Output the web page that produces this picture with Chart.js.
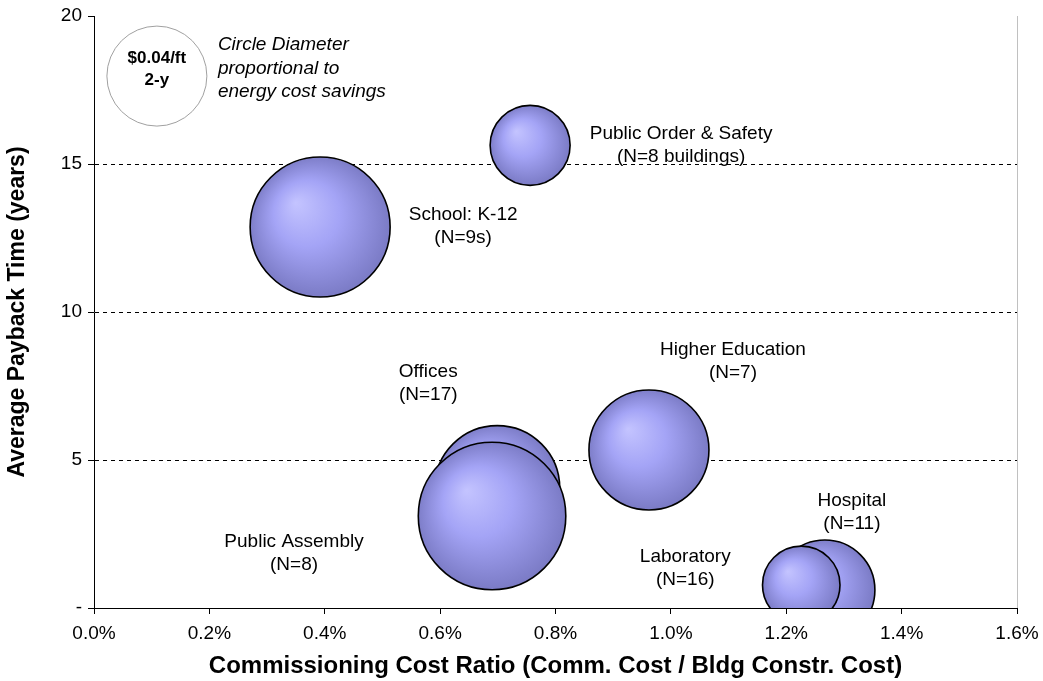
<!DOCTYPE html>
<html>
<head>
<meta charset="utf-8">
<title>Commissioning cost vs payback</title>
<script src="https://cdn.jsdelivr.net/npm/chart.js@4/dist/chart.umd.min.js"></script>
<style>
  body { margin: 0; background: #fff; }
  canvas { display: block; }
</style>
</head>
<body>
<canvas id="chart" width="1043" height="681"></canvas>
<script>
// building types, bottom-most drawn first so overlaps stack the same way
const types   = ['Public Order & Safety', 'School: K-12', 'Offices', 'Public Assembly', 'Higher Education', 'Hospital', 'Laboratory'];
const counts  = ['(N=8 buildings)', '(N=9s)', '(N=17)', '(N=8)', '(N=7)', '(N=11)', '(N=16)'];
const costRatio = [0.756, 0.392, 0.699, 0.690, 0.962, 1.267, 1.226];   // % of construction cost
const payback   = [15.63, 12.87, 4.05, 3.11, 5.34, 0.61, 0.78];        // years
const savings   = [0.032, 0.056, 0.050, 0.059, 0.048, 0.040, 0.031];  // $/ft2-y

const keySavings = 0.04;
const keyText = ['$0.04/ft', '2-y'];
const noteText = ['Circle Diameter', 'proportional to', 'energy cost savings'];

const yTicks = [0, 5, 10, 15, 20];

// label placement, pixel offset of the first line from the bubble centre
const labelOffset = [[151, -12], [143, -12], [-69, -116], [-198, 26], [84, -100], [27, -89], [-116, -28]];

const FONT = '"Liberation Sans", Arial, sans-serif';
const PX_PER_SAVING = 50 / keySavings;

function radiusFor(s) { return s * PX_PER_SAVING; }

function bubbleFill(context) {
  const chart = context.chart;
  const raw = context.raw;
  if (!chart.chartArea || !raw) return '#a0a0f5';
  const cx = chart.scales.x.getPixelForValue(raw.x);
  const cy = chart.scales.y.getPixelForValue(raw.y);
  const r = raw.r;
  const g = chart.ctx.createRadialGradient(cx - 0.35 * r, cy - 0.35 * r, 0, cx, cy, r * 1.05);
  g.addColorStop(0, '#c4c4ff');
  g.addColorStop(0.45, '#a4a4f6');
  g.addColorStop(1, '#7878c2');
  return g;
}

const points = types.map((t, i) => ({ x: costRatio[i], y: payback[i], r: radiusFor(savings[i]) }));

const textPlugin = {
  id: 'bubbleText',
  afterDatasetsDraw(chart) {
    const ctx = chart.ctx;
    const xs = chart.scales.x, ys = chart.scales.y;
    ctx.save();
    ctx.fillStyle = '#000';
    ctx.textAlign = 'center';
    ctx.textBaseline = 'middle';
    ctx.font = '19px ' + FONT;
    types.forEach((t, i) => {
      const px = xs.getPixelForValue(costRatio[i]) + labelOffset[i][0];
      const py = ys.getPixelForValue(payback[i]) + labelOffset[i][1];
      ctx.fillText(t, px, py);
      ctx.fillText(counts[i], px, py + 23);
    });

    // size key
    const key = chart.getDatasetMeta(1).data[0];
    ctx.font = 'bold 17px ' + FONT;
    ctx.fillText(keyText[0], key.x, key.y - 18);
    ctx.fillText(keyText[1], key.x, key.y + 4);
    ctx.font = 'italic 19px ' + FONT;
    ctx.textAlign = 'left';
    noteText.forEach((line, i) => ctx.fillText(line, key.x + 61, key.y - 31 + i * 23.5));

    // light frame line on the right of the plot
    const a = chart.chartArea;
    ctx.strokeStyle = '#c0c0c0';
    ctx.lineWidth = 1;
    ctx.beginPath();
    ctx.moveTo(a.right + 0.5, a.top);
    ctx.lineTo(a.right + 0.5, a.bottom);
    ctx.stroke();
    ctx.restore();
  }
};

const ctx = document.getElementById('chart').getContext('2d');
new Chart(ctx, {
  type: 'bubble',
  data: {
    datasets: [{
      data: points,
      backgroundColor: bubbleFill,
      borderColor: '#000',
      borderWidth: 1.6,
      clip: 0
    }, {
      data: [{ x: 0.109, y: 17.97, r: radiusFor(keySavings) }],
      backgroundColor: '#fff',
      borderColor: '#a0a0a0',
      borderWidth: 1
    }]
  },
  options: {
    responsive: false,
    animation: false,
    events: [],
    layout: { autoPadding: false, padding: { top: 16, right: 26, left: 0, bottom: 0 } },
    plugins: { legend: { display: false }, tooltip: { enabled: false } },
    scales: {
      x: {
        type: 'linear',
        min: 0,
        max: 1.6,
        afterFit(scale) {
          scale.height = 73;
          scale.paddingLeft = 0;
          scale.paddingRight = 0;
        },
        ticks: {
          stepSize: 0.2,
          color: '#000',
          padding: 8,
          font: { family: FONT, size: 19 },
          callback: v => v.toFixed(1) + '%'
        },
        grid: { drawOnChartArea: false, tickColor: '#000', tickLength: 6 },
        border: { color: '#000', width: 1 },
        title: {
          display: true,
          text: 'Commissioning Cost Ratio (Comm. Cost / Bldg Constr. Cost)',
          color: '#000',
          font: { family: FONT, size: 24, weight: 'bold' },
          padding: { top: 0, bottom: 0 }
        }
      },
      y: {
        type: 'linear',
        min: 0,
        max: 20,
        afterFit(scale) {
          scale.width = 94;
          scale.paddingTop = 0;
          scale.paddingBottom = 0;
        },
        afterBuildTicks(scale) { scale.ticks = yTicks.map(v => ({ value: v })); },
        ticks: {
          color: '#000',
          padding: 6,
          font: { family: FONT, size: 19 },
          callback: v => (v === 0 ? '-' : v)
        },
        grid: {
          color: c => (c.tick && c.tick.value > 0 && c.tick.value < 20 ? '#000' : 'rgba(0,0,0,0)'),
          tickColor: '#000',
          tickLength: 6,
          lineWidth: 1
        },
        border: { color: '#000', width: 1, dash: [4, 4] },
        title: {
          display: true,
          text: 'Average Payback Time (years)',
          color: '#000',
          font: { family: FONT, size: 23, weight: 'bold' },
          padding: { top: 4, bottom: 0 }
        }
      }
    }
  },
  plugins: [textPlugin]
});
</script>
</body>
</html>
